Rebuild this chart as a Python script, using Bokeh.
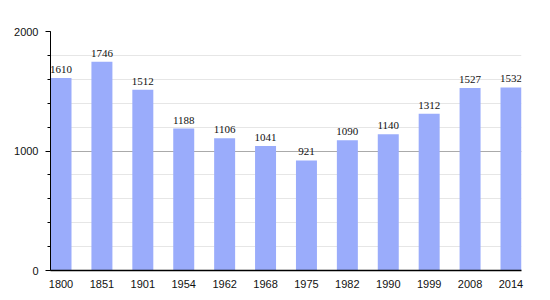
from bokeh.plotting import figure
from bokeh.models import ColumnDataSource, Range1d, SingleIntervalTicker, FixedTicker, LabelSet
from bokeh.embed import file_html
from bokeh.resources import INLINE

years = ["1800", "1851", "1901", "1954", "1962", "1968", "1975", "1982", "1990", "1999", "2008", "2014"]
population = [1610, 1746, 1512, 1188, 1106, 1041, 921, 1090, 1140, 1312, 1527, 1532]

FONT = "Liberation Sans"

idx = list(range(len(years)))
src = ColumnDataSource(data=dict(x=idx, top=population, label=[str(v) for v in population]))

p = figure(width=550, height=300, output_backend="svg", toolbar_location=None,
           x_range=Range1d(-0.257, len(years) - 1 + 0.257), y_range=Range1d(0, 2000),
           min_border_left=50, min_border_right=29, min_border_top=31, min_border_bottom=30)
p.outline_line_color = None
p.background_fill_color = "white"
p.border_fill_color = "white"

p.vbar(x="x", top="top", width=0.513, bottom=0, source=src, fill_color="#9aacfb", line_color=None)

labels = LabelSet(x="x", y="top", text="label", source=src, text_align="center",
                  text_baseline="alphabetic", y_offset=5,
                  text_font=FONT, text_font_size="11px", text_color="#111111")
p.add_layout(labels)

# y axis
p.yaxis.ticker = SingleIntervalTicker(interval=1000, num_minor_ticks=5)
p.yaxis.axis_line_color = "black"
p.yaxis.major_tick_line_color = "black"
p.yaxis.major_tick_out = 5
p.yaxis.major_tick_in = 0
p.yaxis.minor_tick_line_color = "black"
p.yaxis.minor_tick_out = 3
p.yaxis.minor_tick_in = 0
p.yaxis.major_label_text_font = FONT
p.yaxis.major_label_text_font_size = "11px"
p.yaxis.major_label_text_color = "#111111"
p.yaxis.major_label_standoff = 7

# x axis
p.xaxis.ticker = FixedTicker(ticks=idx)
p.xaxis.major_label_overrides = {i: y for i, y in zip(idx, years)}
p.xaxis.axis_line_color = "black"
p.xaxis.axis_line_width = 1.5
p.xaxis.major_tick_line_color = None
p.xaxis.minor_tick_line_color = None
p.xaxis.major_label_text_font = FONT
p.xaxis.major_label_text_font_size = "11px"
p.xaxis.major_label_text_color = "#111111"
p.xaxis.major_label_standoff = 3

# grid
p.xgrid.grid_line_color = None
p.ygrid.grid_line_color = "#aaaaaa"
p.ygrid.minor_grid_line_color = "#e6e6e6"

open("out.html", "w").write(file_html(p, INLINE))
